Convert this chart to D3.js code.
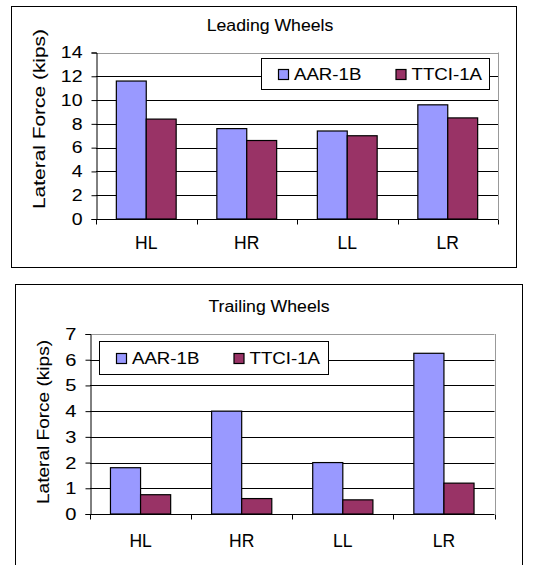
<!DOCTYPE html>
<html>
<head>
<meta charset="utf-8">
<script src="https://cdn.jsdelivr.net/npm/d3@7"></script>
<style>
  html, body { margin: 0; padding: 0; background: #fff; }
  svg { display: block; }
  text { font-family: "Liberation Sans", Arial, sans-serif; fill: #000; stroke: #000; stroke-width: 0.08px; }
</style>
</head>
<body>
<svg id="chart" width="533" height="565"></svg>
<script>
// Wheel positions and the two wheel profiles compared
const categories = ["HL", "HR", "LL", "LR"];
const seriesNames = ["AAR-1B", "TTCI-1A"];

// Lateral force (kips), leading wheels
const leadingAAR = [11.6, 7.6, 7.4, 9.6];
const leadingTTCI = [8.4, 6.6, 7.0, 8.5];
const leadingTicks = [0, 2, 4, 6, 8, 10, 12, 14];

// Lateral force (kips), trailing wheels
const trailingAAR = [1.8, 4.0, 2.0, 6.25];
const trailingTTCI = [0.75, 0.6, 0.55, 1.2];
const trailingTicks = [0, 1, 2, 3, 4, 5, 6, 7];

const seriesColors = ["#9999FF", "#993366"];

const svg = d3.select("#chart");

// widen a text run along its own direction
function stretch(sel, factor) {
  sel.each(function () {
    const len = this.getComputedTextLength();
    d3.select(this).attr("textLength", len * factor).attr("lengthAdjust", "spacingAndGlyphs");
  });
}

function drawChart(cfg) {
  const g = svg.append("g");

  // outer frame
  g.append("rect")
    .attr("x", cfg.frame[0] + 0.5).attr("y", cfg.frame[1] + 0.5)
    .attr("width", cfg.frame[2]).attr("height", cfg.frame[3])
    .attr("fill", "#fff").attr("stroke", "#000").attr("stroke-width", 1);

  const p = cfg.plot;
  const y = d3.scaleLinear().domain([0, d3.max(cfg.ticks)]).range([p.bottom, p.top]);
  const x0 = d3.scaleBand().domain(categories).range([p.left, p.right]).padding(0);
  const x1 = d3.scaleBand().domain(seriesNames).range([0, x0.bandwidth()])
    .paddingInner(0).paddingOuter(0.68);

  // horizontal gridlines
  g.append("g").selectAll("line").data(cfg.ticks.slice(1)).join("line")
    .attr("x1", p.left).attr("x2", p.right)
    .attr("y1", d => Math.round(y(d)) + 0.5).attr("y2", d => Math.round(y(d)) + 0.5)
    .attr("stroke", d => d === d3.max(cfg.ticks) ? "#999" : "#000")
    .attr("stroke-width", 1);

  // right edge of the plot area
  g.append("line")
    .attr("x1", Math.round(p.right) + 0.5).attr("x2", Math.round(p.right) + 0.5)
    .attr("y1", p.top).attr("y2", p.bottom)
    .attr("stroke", "#999");

  // bars
  const rows = categories.map((c, i) => ({ cat: c, vals: cfg.series.map(s => s[i]) }));
  g.append("g").selectAll("g").data(rows).join("g")
    .attr("transform", d => `translate(${x0(d.cat)},0)`)
    .selectAll("rect")
    .data(d => d.vals.map((v, j) => ({ name: seriesNames[j], v, j })))
    .join("rect")
    .attr("x", d => x1(d.name))
    .attr("y", d => y(d.v))
    .attr("width", x1.bandwidth())
    .attr("height", d => y(0) - y(d.v))
    .attr("fill", d => seriesColors[d.j])
    .attr("stroke", "#000").attr("stroke-width", 1.2);

  // y axis
  const yAxis = g.append("g")
    .attr("transform", `translate(${Math.round(p.left) + 0.5},0)`)
    .call(d3.axisLeft(y).tickValues(cfg.ticks).tickFormat(d3.format("d"))
      .tickSize(5).tickPadding(cfg.tickPad));
  yAxis.select(".domain").attr("stroke", "#000");
  yAxis.selectAll(".tick line").attr("stroke", "#000");
  yAxis.selectAll("text").attr("font-size", cfg.tickFont).attr("font-family", null)
    .attr("fill", null).call(stretch, 1.18);

  // x axis with ticks between categories
  const xg = g.append("g").attr("transform", `translate(0,${Math.round(p.bottom) + 0.5})`);
  xg.append("line").attr("x1", p.left).attr("x2", p.right).attr("stroke", "#000");
  const bounds = categories.map(c => x0(c)).concat([p.right]);
  xg.selectAll("line.tk").data(bounds).join("line").attr("class", "tk")
    .attr("x1", d => Math.round(d) + 0.5).attr("x2", d => Math.round(d) + 0.5)
    .attr("y1", 0).attr("y2", 5).attr("stroke", "#000");
  g.append("g").selectAll("text").data(categories).join("text")
    .attr("x", d => x0(d) + x0.bandwidth() / 2)
    .attr("y", cfg.catBaseline)
    .attr("text-anchor", "middle")
    .attr("font-size", 17.5)
    .text(d => d);

  // title
  g.append("text")
    .attr("x", cfg.titleX).attr("y", cfg.titleY)
    .attr("text-anchor", "middle").attr("font-size", 16.5)
    .text(cfg.title).call(stretch, 1.07);

  // y axis title
  g.append("text")
    .attr("transform", `translate(${cfg.yTitleX},${cfg.yTitleY}) rotate(-90)`)
    .attr("text-anchor", "middle").attr("font-size", 17)
    .attr("textLength", cfg.yTitleLen).attr("lengthAdjust", "spacingAndGlyphs")
    .text("Lateral Force (kips)");

  // legend
  const L = cfg.legend;
  const lg = g.append("g").attr("transform", `translate(${L.x},${L.y})`);
  lg.append("rect").attr("x", 0.5).attr("y", 0.5).attr("width", L.w).attr("height", L.h)
    .attr("fill", "#fff").attr("stroke", "#000");
  const items = lg.selectAll("g").data(seriesNames).join("g")
    .attr("transform", (d, i) => `translate(${i === 0 ? 17 : 134.5},0)`);
  items.append("rect")
    .attr("x", 0.5).attr("y", Math.round(L.h / 2 - 5) + 0.5).attr("width", 10).attr("height", 10)
    .attr("fill", (d, i) => seriesColors[i]).attr("stroke", "#000").attr("stroke-width", 1.2);
  items.append("text")
    .attr("x", 16).attr("y", L.h / 2 + 6)
    .attr("font-size", 16.5)
    .text(d => d).call(stretch, 1.13);
}

drawChart({
  title: "Leading Wheels",
  series: [leadingAAR, leadingTTCI],
  ticks: leadingTicks,
  frame: [11, 6, 505, 261],
  plot: { left: 96, right: 498, top: 52.5, bottom: 219 },
  tickFont: 16.5, tickPad: 9,
  catBaseline: 249,
  titleX: 270, titleY: 31,
  yTitleX: 45, yTitleY: 119, yTitleLen: 180,
  legend: { x: 261, y: 58, w: 228, h: 31 }
});

drawChart({
  title: "Trailing Wheels",
  series: [trailingAAR, trailingTTCI],
  ticks: trailingTicks,
  frame: [15, 284, 507, 290],
  plot: { left: 90, right: 494.5, top: 334, bottom: 514 },
  tickFont: 17, tickPad: 9,
  catBaseline: 547,
  titleX: 269, titleY: 312,
  yTitleX: 49, yTitleY: 422, yTitleLen: 164,
  legend: { x: 99, y: 341, w: 229, h: 33 }
});
</script>
</body>
</html>
